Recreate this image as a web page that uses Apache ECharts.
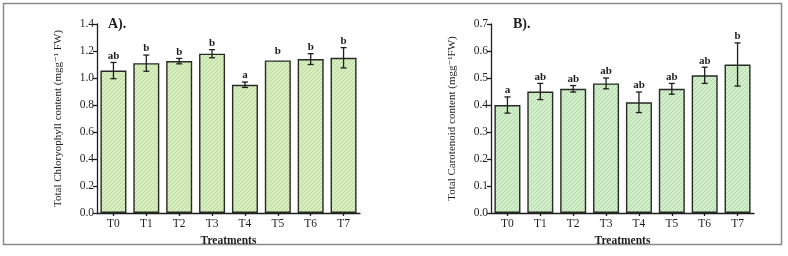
<!DOCTYPE html>
<html>
<head>
<meta charset="utf-8">
<script src="https://cdn.jsdelivr.net/npm/echarts@6/dist/echarts.min.js"></script>
<style>
  html, body { margin: 0; padding: 0; background: #fff; }
  #chart { width: 788px; height: 256px; }
</style>
</head>
<body>
<div id="chart"></div>
<script>
// treatments on the x axis
const treatments = ['T0', 'T1', 'T2', 'T3', 'T4', 'T5', 'T6', 'T7'];

// A) total chlorophyll
const chloroMean = [1.055, 1.11, 1.125, 1.18, 0.95, 1.13, 1.14, 1.15];
const chloroErr = [0.06, 0.06, 0.02, 0.03, 0.02, 0, 0.04, 0.075];
const chloroLetters = ['ab', 'b', 'b', 'b', 'a', 'b', 'b', 'b'];

// B) total carotenoid
const caroMean = [0.40, 0.45, 0.46, 0.48, 0.41, 0.46, 0.51, 0.55];
const caroErr = [0.03, 0.03, 0.012, 0.02, 0.038, 0.02, 0.03, 0.08];
const caroLetters = ['a', 'ab', 'ab', 'ab', 'ab', 'ab', 'ab', 'b'];

const FONT = '"Liberation Serif", "DejaVu Serif", serif';
const INK = '#1e1e1e';

// hatched fill like the original figure
function hatch(bg, stripe) {
  const c = document.createElement('canvas');
  c.width = 4; c.height = 4;
  const ctx = c.getContext('2d');
  ctx.fillStyle = bg;
  ctx.fillRect(0, 0, 4, 4);
  ctx.fillStyle = stripe;
  for (let i = 0; i < 4; i++) ctx.fillRect(i, 3 - i, 1, 1);
  return { image: c, repeat: 'repeat' };
}

function errorSeries(idx, means, errs, letters) {
  return {
    type: 'custom',
    xAxisIndex: idx,
    yAxisIndex: idx,
    z: 5,
    data: means.map((m, i) => [i, m, errs[i]]),
    renderItem: (params, api) => {
      const i = api.value(0);
      const m = api.value(1);
      const e = api.value(2);
      const hi = api.coord([i, m + e]);
      const lo = api.coord([i, m - e]);
      const cap = 3;
      const style = { stroke: INK, lineWidth: 1.3 };
      const children = [];
      if (e > 0) {
        children.push(
          { type: 'line', shape: { x1: hi[0], y1: hi[1], x2: lo[0], y2: lo[1] }, style },
          { type: 'line', shape: { x1: hi[0] - cap, y1: hi[1], x2: hi[0] + cap, y2: hi[1] }, style },
          { type: 'line', shape: { x1: lo[0] - cap, y1: lo[1], x2: lo[0] + cap, y2: lo[1] }, style }
        );
      }
      children.push({
        type: 'text',
        x: hi[0],
        y: hi[1] - (e > 0 ? 1 : 4),
        style: {
          text: letters[params.dataIndex],
          font: 'bold 11px ' + FONT,
          fill: INK,
          align: 'center',
          verticalAlign: 'bottom'
        }
      });
      return { type: 'group', children };
    }
  };
}

function yAxis(idx, max, name) {
  return {
    gridIndex: idx,
    type: 'value',
    min: 0,
    max: max,
    interval: idx === 0 ? 0.2 : 0.1,
    name: name,
    nameLocation: 'middle',
    nameGap: 33,
    nameTextStyle: { fontFamily: FONT, fontSize: 11, color: INK },
    splitLine: { show: false },
    axisLine: { show: true, lineStyle: { color: INK, width: 1.3 } },
    axisTick: { show: true, length: 4, lineStyle: { color: INK, width: 1.3 } },
    axisLabel: {
      margin: 3,
      fontFamily: FONT,
      fontSize: 11.5,
      color: INK,
      formatter: v => v.toFixed(1)
    }
  };
}

function xAxis(idx) {
  return {
    gridIndex: idx,
    type: 'category',
    data: treatments,
    name: 'Treatments',
    nameLocation: 'middle',
    nameGap: 16,
    nameTextStyle: { fontFamily: FONT, fontSize: 11.5, fontWeight: 'bold', color: INK },
    axisLine: { lineStyle: { color: INK, width: 1.3 } },
    axisTick: { show: true, alignWithLabel: true, length: 3, lineStyle: { color: INK, width: 1.3 } },
    axisLabel: { margin: 5, fontFamily: FONT, fontSize: 11.5, color: INK }
  };
}

const barStyle = (fill) => ({ color: fill, borderColor: '#262b24', borderWidth: 1.4 });

const chart = echarts.init(document.getElementById('chart'));
chart.setOption({
  animation: false,
  backgroundColor: '#fff',
  grid: [
    { left: 97, top: 24, width: 263, height: 189 },
    { left: 491, top: 24, width: 263, height: 189 }
  ],
  xAxis: [xAxis(0), xAxis(1)],
  yAxis: [
    yAxis(0, 1.4, 'Total Chloryophyll content (mgg\u207B\u00B9 FW)'),
    yAxis(1, 0.7, 'Total Carotenoid content (mgg\u207B\u00B9FW)')
  ],
  series: [
    {
      type: 'bar',
      xAxisIndex: 0,
      yAxisIndex: 0,
      data: chloroMean,
      barWidth: 26,
      itemStyle: barStyle(hatch('#d8eec1', '#b7d99a'))
    },
    {
      type: 'bar',
      xAxisIndex: 1,
      yAxisIndex: 1,
      data: caroMean,
      barWidth: 26,
      itemStyle: barStyle(hatch('#d2eecb', '#afd7a8'))
    },
    errorSeries(0, chloroMean, chloroErr, chloroLetters),
    errorSeries(1, caroMean, caroErr, caroLetters)
  ],
  graphic: [
    {
      type: 'rect',
      shape: { x: 3.5, y: 3.5, width: 778, height: 241 },
      style: { fill: 'none', stroke: '#8a8a8a', lineWidth: 1.5 }
    },
    {
      type: 'text',
      left: 108,
      top: 17,
      style: { text: 'A).', font: 'bold 14px ' + FONT, fill: INK }
    },
    {
      type: 'text',
      left: 513,
      top: 17,
      style: { text: 'B).', font: 'bold 14px ' + FONT, fill: INK }
    }
  ]
});
</script>
</body>
</html>
